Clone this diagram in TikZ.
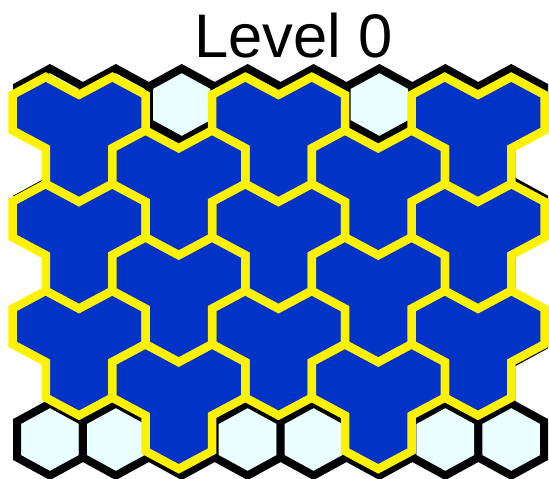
\documentclass[tikz,border=0pt]{standalone}
\usepackage{fontspec}
\setmainfont{Liberation Sans}
\usepackage{xcolor}
\definecolor{cellcyan}{HTML}{EAFFFF}
\definecolor{triblue}{HTML}{0033C6}

% one tile of three cells, (#1,#2) is the centre of its upper left cell
\newcommand{\trihex}[2]{%
  \path[tri] (#1,#2) +(-33.25,-17.8) -- +(0,-35.6) -- +(33.25,-17.8) -- +(66.5,-35.6)
    -- +(99.75,-17.8) -- +(99.75,17.8) -- +(66.5,35.6) -- +(66.5,71.2)
    -- +(33.25,89) -- +(0,71.2) -- +(0,35.6) -- +(-33.25,17.8) -- cycle;}

\begin{document}
\begin{tikzpicture}[x=1pt,y=-1pt,
    cell/.style={draw=black,fill=cellcyan,line width=8pt},
    tri/.style={draw=yellow,fill=triblue,line width=8.5pt},
    title/.style={font=\fontsize{61.5}{70}\selectfont,anchor=base,inner sep=0pt}
    ]

    \useasboundingbox (0,0) rectangle (549,479);

    % grid of cells
    \foreach \r in {0,2,4,6}
      \foreach \k in {0,...,7}
        \path[cell] ({49.95+65.9*\k},{439.5-55.83*\r}) +(0,-36) -- +(32.95,-18) -- +(32.95,18)
          -- +(0,36) -- +(-32.95,18) -- +(-32.95,-18) -- cycle;
    \foreach \r in {1,3,5}
      \foreach \k in {0,...,6}
        \path[cell] ({82.9+65.9*\k},{439.5-55.83*\r}) +(0,-36) -- +(32.95,-18) -- +(32.95,18)
          -- +(0,36) -- +(-32.95,18) -- +(-32.95,-18) -- cycle;

    % tiles
    \foreach \r in {2,4,6}{
      \foreach \k in {0,3,6}{
        \trihex{{45.75+66.5*\k}}{{433.3-53.45*\r}}
      }
    }
    \foreach \r in {1,3,5}{
      \foreach \k in {1,4}{
        \trihex{{79+66.5*\k}}{{433.3-53.45*\r}}
      }
    }

    \node[title] (title) at (293.5,57) {Level 0};

  \end{tikzpicture}
\end{document}
